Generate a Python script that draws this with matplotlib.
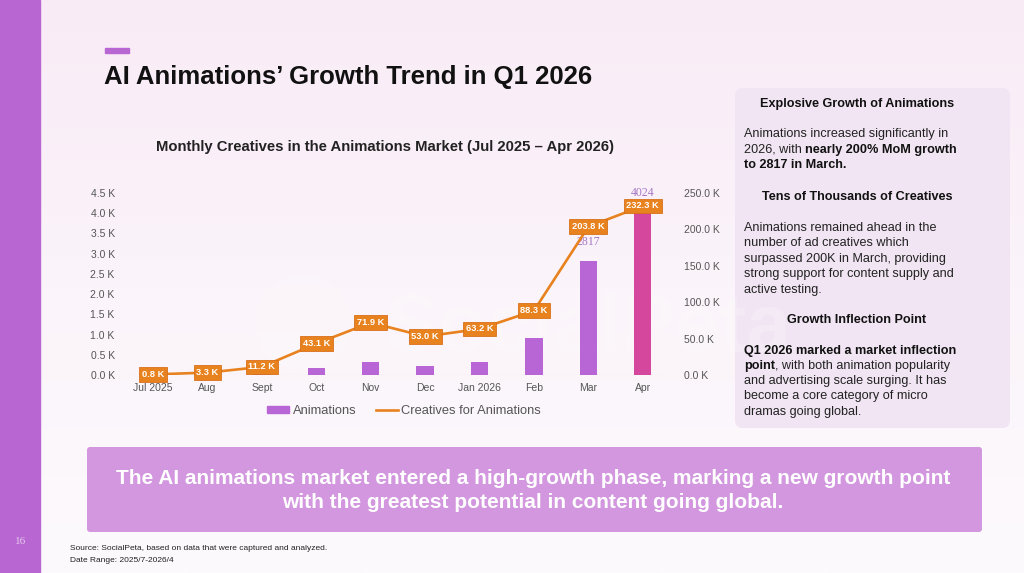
import matplotlib.pyplot as plt
import matplotlib.patches as mpatches
from matplotlib.lines import Line2D
from matplotlib.patches import FancyBboxPatch
from matplotlib.colors import LinearSegmentedColormap
import numpy as np

plt.rcParams['font.family'] = ['Liberation Sans', 'DejaVu Sans']

# data
months = ['Jul 2025', 'Aug', 'Sept', 'Oct', 'Nov', 'Dec', 'Jan 2026', 'Feb', 'Mar', 'Apr']
animations = [2, 10, 60, 180, 330, 220, 310, 914, 2817, 4024]
creatives_k = [0.8, 3.3, 11.2, 43.1, 71.9, 53.0, 63.2, 88.3, 203.8, 232.3]
left_ticks = [0, 500, 1000, 1500, 2000, 2500, 3000, 3500, 4000, 4500]
right_ticks = [0, 50, 100, 150, 200, 250]

W, H = 1024, 573
fig = plt.figure(figsize=(W / 100, H / 100), dpi=100)

# background
bg = fig.add_axes([0, 0, 1, 1])
grad = np.linspace(0, 1, 256).reshape(-1, 1)
cmap = LinearSegmentedColormap.from_list('bg', ['#f9ebf6', '#fbf4fa', '#fdfafd'])
bg.imshow(grad, aspect='auto', cmap=cmap, extent=[0, W, H, 0])
bg.set_xlim(0, W)
bg.set_ylim(H, 0)
bg.axis('off')

# left stripe + page number
bg.add_patch(mpatches.Rectangle((0, 0), 40, H, color='#b866d2'))
bg.text(21, 541, '16', color='#e6c8ee', fontsize=8, ha='center', va='center',
        family=['Liberation Serif', 'DejaVu Serif'])

# title
bg.add_patch(mpatches.Rectangle((105, 48), 24, 5, color='#b866d2'))
bg.text(104, 77, 'AI Animations\u2019 Growth Trend in Q1 2026', fontsize=18.5, fontweight='bold',
        color='#111111', va='center', ha='left')

# watermark (faint logo)
bg.add_patch(mpatches.Circle((303, 322), 48, color='white', alpha=0.18, lw=0))
bg.text(588, 330, 'SocialPeta', fontsize=58, fontweight='bold', color='white', alpha=0.2,
        ha='center', va='center')

# chart title
bg.text(385, 147, 'Monthly Creatives in the Animations Market (Jul 2025 \u2013 Apr 2026)',
        fontsize=10.7, fontweight='bold', color='#222222', ha='center', va='center')

# chart axes
ax = fig.add_axes([125.8 / W, 1 - 375 / H, 544.2 / W, 182 / H])
ax.patch.set_alpha(0)
x = np.arange(len(months))
bar_colors = ['#b865d6'] * (len(months) - 1) + ['#d4479c']
ax.bar(x, animations, width=0.32, color=bar_colors, zorder=2)
ax.set_xlim(-0.5, len(months) - 0.5)
ax.set_ylim(0, 4500)
ax.set_yticks(left_ticks)
ax.set_yticklabels(['%.1f K' % (v / 1000) for v in left_ticks])
ax.set_xticks(x)
ax.set_xticklabels(months)
ax.tick_params(length=0, labelsize=7.5, colors='#555555', pad=6)
ax.tick_params(axis='y', pad=8)
for s in ax.spines.values():
    s.set_visible(False)
ax.axhline(0, color='#dddddd', lw=0.8, zorder=1)
for i in (8, 9):
    ax.annotate(str(animations[i]), (x[i], animations[i]), xytext=(0, 9.5),
                textcoords='offset points', ha='center', va='bottom',
                color='#a476c4', fontsize=8.5, family=['Liberation Serif', 'DejaVu Serif'])

ax2 = ax.twinx()
ax2.plot(x, creatives_k, color='#e8821e', lw=1.9, zorder=3)
ax2.set_ylim(0, 250)
ax2.set_yticks(right_ticks)
ax2.set_yticklabels(['%.1f K' % v for v in right_ticks])
ax2.tick_params(length=0, labelsize=7.5, colors='#555555', pad=10)
for s in ax2.spines.values():
    s.set_visible(False)
for xi, v in zip(x, creatives_k):
    ax2.text(xi, v, '%.1f K' % v, ha='center', va='center', color='white', fontsize=6.7,
             fontweight='bold', zorder=4,
             bbox=dict(boxstyle='square,pad=0.3', fc='#e8821e', ec='#d8701a', lw=0.6))

handles = [mpatches.Patch(color='#b865d6', label='Animations'),
           Line2D([0], [0], color='#e8821e', lw=1.9, label='Creatives for Animations')]
fig.legend(handles=handles, loc='center', bbox_to_anchor=(404 / W, 1 - 411 / H), ncol=2,
           frameon=False, fontsize=9.3, labelcolor='#555555', handlelength=1.7,
           handleheight=0.5, columnspacing=1.5, handletextpad=0.3)

# right info box
bg.add_patch(FancyBboxPatch((735, 88), 275, 340, boxstyle='round,pad=0,rounding_size=8',
                            fc='#f1e5f3', ec='none'))
fs = 9.1
hx = 857
lx = 744
renderer = fig.canvas.get_renderer()


def runs(x0, y, parts):
    # write a line made of regular and bold pieces, one after another
    xp = x0
    for text, bold in parts:
        t = bg.text(xp, y, text, fontsize=fs, va='center', ha='left',
                    fontweight='bold' if bold else 'normal',
                    color='#111111' if bold else '#222222')
        bb = t.get_window_extent(renderer)
        xp = bg.transData.inverted().transform((bb.x1, bb.y0))[0]


bg.text(hx, 104, 'Explosive Growth of Animations', fontsize=fs, fontweight='bold',
        ha='center', va='center', color='#111111')
runs(lx, 134, [('Animations increased significantly in', False)])
runs(lx, 150, [('2026, with ', False), ('nearly 200% MoM growth', True)])
runs(lx, 165, [('to 2817 in March.', True)])

bg.text(hx, 197, 'Tens of Thousands of Creatives', fontsize=fs, fontweight='bold',
        ha='center', va='center', color='#111111')
body2 = ['Animations remained ahead in the',
         'number of ad creatives which',
         'surpassed 200K in March, providing',
         'strong support for content supply and',
         'active testing.']
for i, line in enumerate(body2):
    runs(lx, 228 + i * 15.4, [(line, False)])

bg.text(hx, 320, 'Growth Inflection Point', fontsize=fs, fontweight='bold',
        ha='center', va='center', color='#111111')
runs(lx, 351, [('Q1 2026 marked a market inflection', True)])
runs(lx, 366, [('point', True), (', with both animation popularity', False)])
body3 = ['and advertising scale surging. It has',
         'become a core category of micro',
         'dramas going global.']
for i, line in enumerate(body3):
    runs(lx, 381 + i * 15.4, [(line, False)])

# bottom banner
bg.add_patch(FancyBboxPatch((87, 447), 895, 85, boxstyle='round,pad=0,rounding_size=3',
                            fc='#d297de', ec='none'))
bg.text(533, 478, 'The AI animations market entered a high-growth phase, marking a new growth point',
        fontsize=15, fontweight='bold', color='white', ha='center', va='center')
bg.text(533, 503, 'with the greatest potential in content going global.',
        fontsize=15, fontweight='bold', color='white', ha='center', va='center')

# source
bg.text(70, 549, 'Source: SocialPeta, based on data that were captured and analyzed.',
        fontsize=6, color='#222222', va='center')
bg.text(70, 561, 'Date Range: 2025/7-2026/4', fontsize=6, color='#222222', va='center')

fig.savefig('out.png', dpi=100)
